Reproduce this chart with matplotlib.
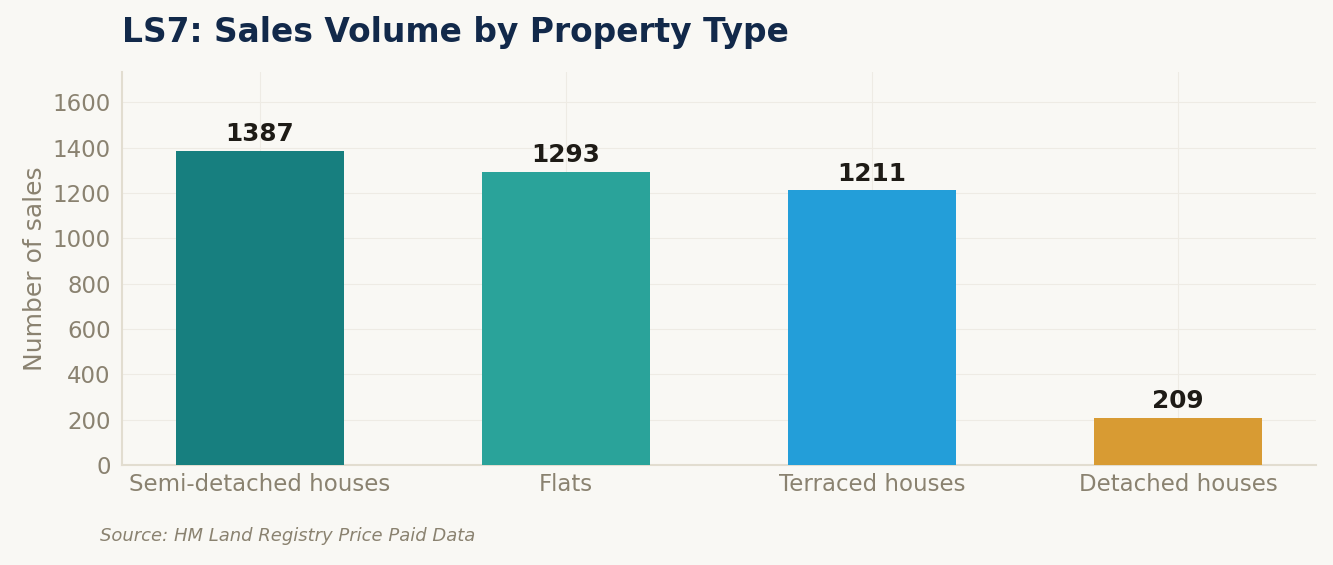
import matplotlib
matplotlib.use("Agg")
import matplotlib.pyplot as plt

plt.rcParams['font.family'] = ['DejaVu Sans']

categories = ["Semi-detached houses", "Flats", "Terraced houses", "Detached houses"]
values = [1387, 1293, 1211, 209]
bar_colors = ["#177F7F", "#2AA39A", "#239ED9", "#D89B33"]
yticks = [0, 200, 400, 600, 800, 1000, 1200, 1400, 1600]

bg = "#F9F8F4"
tick_col = "#8A8270"
fig = plt.figure(figsize=(13.33, 5.65), dpi=100, facecolor=bg)
ax = fig.add_axes([0.0915, 0.177, 0.8957, 0.6956], facecolor=bg)

x = list(range(len(categories)))
ax.bar(x, values, width=0.55, color=bar_colors, zorder=3)
for xi, v in zip(x, values):
    ax.text(xi, v + 20, str(v), ha="center", va="bottom", fontsize=17.8,
            fontweight="bold", color="#1E1B16", zorder=4)

ax.set_xlim(-0.45, 3.45)
ax.set_ylim(0, max(values) * 1.25)
ax.set_xticks(x)
ax.set_xticklabels(categories)
ax.set_yticks(yticks)
ax.tick_params(axis="both", length=0, labelsize=16.5, labelcolor=tick_col)
ax.tick_params(axis="x", pad=6)
ax.tick_params(axis="y", pad=8)
ax.grid(True, color="#EEEBE4", linewidth=0.8, zorder=0)
for s in ["top", "right"]:
    ax.spines[s].set_visible(False)
for s in ["left", "bottom"]:
    ax.spines[s].set_color("#E2DDD0")
    ax.spines[s].set_linewidth(1.5)

ax.set_ylabel("Number of sales", fontsize=18, color=tick_col, labelpad=4)
fig.text(0.0915, 0.925, "LS7: Sales Volume by Property Type", fontsize=23.7,
         fontweight="bold", color="#12294A", ha="left", va="baseline")
fig.text(0.075, 0.043, "Source: HM Land Registry Price Paid Data", fontsize=12.95,
         style="italic", color=tick_col, ha="left", va="baseline")

fig.savefig("out.png", dpi=100, facecolor=bg)
